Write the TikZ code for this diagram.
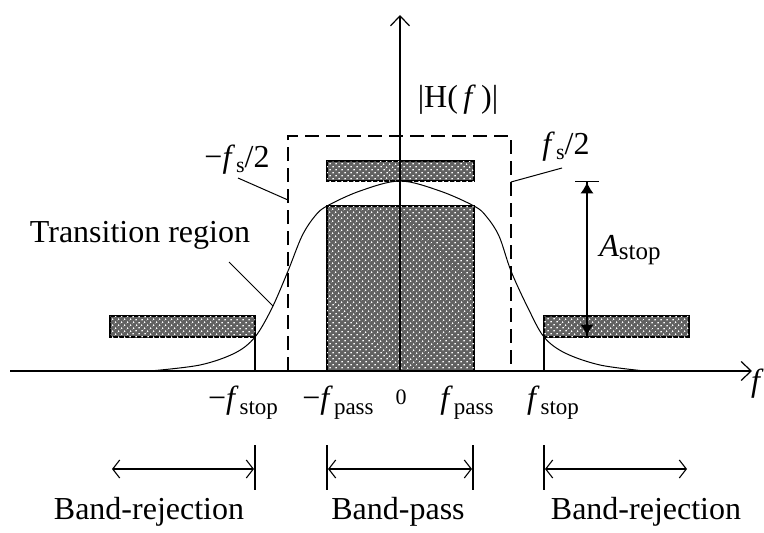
\documentclass[tikz,border=0pt]{standalone}
\usepackage{fontspec}
\setmainfont{Liberation Serif}
\usetikzlibrary{arrows.meta,patterns.meta}
\tikzdeclarepattern{
  name=meshdots,
  type=uncolored,
  bounding box={(0pt,0pt) and (4pt,4pt)},
  tile size={(4pt,4pt)},
  tile transformation={rotate=45},
  code={\fill (2pt,2pt) circle (0.95pt);}
}
\tikzset{
  every node/.append style={font=\fontsize{32}{36}\selectfont, inner sep=0pt},
  axis/.style={line width=1.4pt, -{Straight Barb[length=10pt,width=19pt,line width=1.2pt]}},
  hatch/.style={draw, line width=1.2pt, fill=black!62,
                postaction={pattern=meshdots, pattern color=white}},
  dashbox/.style={line width=1.2pt, dash pattern=on 14pt off 7pt},
  resp/.style={line width=1pt},
  leader/.style={line width=1pt},
  edgeline/.style={line width=1.3pt},
  span/.style={line width=1.3pt,
               {Straight Barb[length=7pt,width=18pt,line width=1.1pt]}-{Straight Barb[length=7pt,width=18pt,line width=1.1pt]}},
  gap/.style={line width=1.3pt,
              {Bar[width=24pt]Latex[length=11pt,width=13pt]}-{Latex[length=11pt,width=13pt]Bar[width=24pt]}},
  small/.style={font=\fontsize{22}{24}\selectfont},
}
\newcommand{\fsub}[1]{\textit{f}\kern1pt\raisebox{-6pt}{\fontsize{23}{24}\selectfont #1}}

\begin{document}
\begin{tikzpicture}[x=1pt,y=-1pt]
  \useasboundingbox (0,0) rectangle (764,533);

  % band edges on the axis
  \coordinate (o) at (400,371);
  \coordinate (xa) at (10,371);
  \coordinate (xb) at (752,371);
  \coordinate (ya) at (400,15);

  % hatched masks
  \draw[hatch] (327,161) rectangle (474,181);
  \draw[hatch] (327,206) rectangle (474,371);
  \draw[hatch] (110,316) rectangle (255,337);
  \draw[hatch] (544,316) rectangle (689,337);
  \draw[edgeline] (255,337) -- (255,371);
  \draw[edgeline] (544,337) -- (544,371);

  % fs/2 box
  \coordinate (hl) at (288,371);
  \coordinate (hr) at (511,371);
  \draw[dashbox] (hl) -- (288,136) -- (511,136) -- (hr);

  % response
  \draw[resp] plot[smooth, tension=0.55] coordinates {(150,371) (200,365) (235,353) (255,337)
    (272,308) (288,271) (302,236) (315,216) (327,206) (360,191) (400,181) (440,191)
    (474,206) (486,216) (499,236) (511,271) (528,308) (544,337) (565,353) (600,365) (645,371)};

  % axes
  \draw[axis] (xa) -- (xb);
  \draw[axis] (o) -- (ya);
  \node[anchor=west] (fx) at (751,384) {\textit{f}};
  \node (hf) at (458,100) {|H(\,\textit{f}\,)|};

  % labels with leaders
  \node (fsr) at (566,147) {\textit{f}\kern1pt\raisebox{-5pt}{\fontsize{22}{24}\selectfont s}/2};
  \node (fsl) at (237,160) {\textminus\textit{f}\kern1pt\raisebox{-5pt}{\fontsize{22}{24}\selectfont s}/2};
  \node (trans) at (140,235) {Transition region};
  \coordinate (fsrend) at (562,168);
  \coordinate (fsrdash) at (511,182);
  \coordinate (fslend) at (238,178);
  \coordinate (fsldash) at (288,200);
  \coordinate (trend) at (229,262);
  \coordinate (trcurve) at (273,306);
  \draw[leader] (fsrend) -- (fsrdash);
  \draw[leader] (fslend) -- (fsldash);
  \draw[leader] (trend) -- (trcurve);

  % attenuation
  \coordinate (atop) at (587,181);
  \coordinate (abot) at (587,337);
  \draw[gap] (atop) -- (abot);
  \node (astop) at (630,250) {\textit{A}\raisebox{-3pt}{\fontsize{25}{26}\selectfont stop}};

  % tick labels
  \node (tsl) at (243,403) {\textminus\fsub{stop}};
  \node (tpl) at (338,403) {\textminus\fsub{pass}};
  \node[small] (t0) at (401,397) {0};
  \node (tpr) at (467,403) {\fsub{pass}};
  \node (tsr) at (553,403) {\fsub{stop}};

  % bands
  \foreach \x/\n in {255/a, 327/b, 473/c, 544/d} {
    \coordinate (\n1) at (\x,445);
    \coordinate (\n2) at (\x,490);
    \draw[edgeline] (\n1) -- (\n2);
  }
  \coordinate (la) at (112,469);
  \coordinate (lb) at (254,469);
  \coordinate (ma) at (328,469);
  \coordinate (mb) at (472,469);
  \coordinate (ra) at (545,469);
  \coordinate (rb) at (687,469);
  \draw[span] (la) -- (lb);
  \draw[span] (ma) -- (mb);
  \draw[span] (ra) -- (rb);
  \node (brl) at (149,512) {Band-rejection};
  \node (bp) at (398,512) {Band-pass};
  \node (brr) at (646,512) {Band-rejection};
\end{tikzpicture}
\end{document}
